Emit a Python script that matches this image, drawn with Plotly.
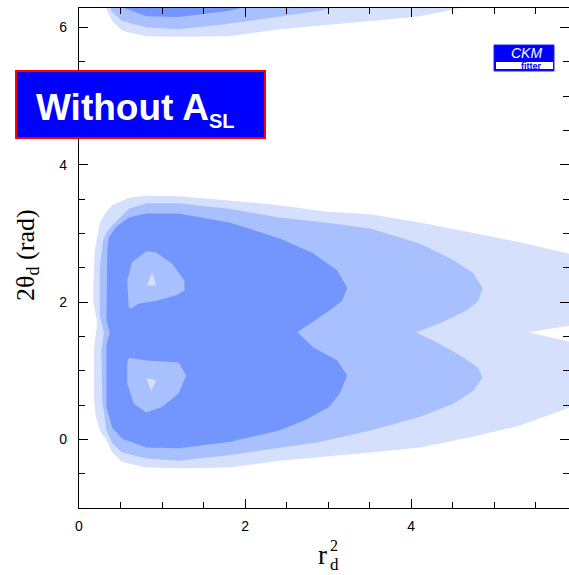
import math
import plotly.graph_objects as go

# Fill colours for the confidence-level bands (outer -> inner)
LIGHT = "rgb(213,224,253)"
MID = "rgb(168,192,253)"
DARK = "rgb(114,150,253)"

TWO_PI = 2 * math.pi

# Band boundaries in the (r_d^2, 2theta_d) plane
outer_r2 = [0.22, 0.17, 0.18, 0.19, 0.25, 0.33, 0.40, 0.60, 0.81, 1.20, 1.81, 2.41, 2.96,
            3.51, 4.11, 4.71, 5.31, 5.88, 6.52, 6.52, 5.42, 6.52, 6.52, 5.92, 5.31, 4.71,
            4.11, 3.51, 2.90, 2.42, 1.81, 1.20, 0.81, 0.52, 0.40, 0.33, 0.25, 0.20, 0.18,
            0.18, 0.20]
outer_th = [1.69, 2.02, 2.46, 2.75, 3.16, 3.32, 3.41, 3.52, 3.55, 3.54, 3.48, 3.41, 3.32,
            3.28, 3.16, 3.01, 2.87, 2.71, 2.53, 1.78, 1.56, 1.24, 0.73, 0.47, 0.20, 0.03,
            -0.12, -0.19, -0.26, -0.31, -0.41, -0.42, -0.41, -0.33, -0.19, -0.01, 0.13, 0.35,
            0.57, 1.30, 1.51]

middle_r2 = [0.29, 0.33, 0.40, 0.60, 0.81, 1.20, 1.81, 2.41, 2.96, 3.51, 4.11, 4.51, 4.75,
             4.86, 4.81, 4.67, 4.35, 4.06, 4.31, 4.59, 4.80, 4.86, 4.75, 4.51, 4.11, 3.51,
             2.90, 2.41, 1.81, 1.20, 0.81, 0.52, 0.40, 0.33, 0.28, 0.27, 0.30, 0.25, 0.25]
middle_th = [2.90, 3.01, 3.12, 3.36, 3.44, 3.44, 3.36, 3.23, 3.16, 3.07, 2.85, 2.61, 2.42,
             2.20, 2.02, 1.88, 1.69, 1.56, 1.41, 1.22, 1.05, 0.90, 0.71, 0.52, 0.33, 0.13,
             -0.04, -0.13, -0.23, -0.31, -0.28, -0.19, -0.06, 0.13, 0.57, 1.30, 1.56, 1.80,
             2.50]

inner_r2 = [0.34, 0.36, 0.45, 0.60, 0.81, 1.20, 1.81, 2.41, 2.82, 3.11, 3.23, 3.17, 3.02,
            2.63, 2.82, 3.11, 3.23, 3.14, 3.01, 2.72, 2.41, 1.81, 1.20, 0.81, 0.52, 0.40,
            0.33, 0.33, 0.37, 0.33]
inner_th = [2.75, 2.94, 3.10, 3.23, 3.29, 3.29, 3.16, 2.93, 2.71, 2.46, 2.21, 2.02, 1.88,
            1.56, 1.34, 1.15, 0.93, 0.67, 0.47, 0.28, 0.13, -0.04, -0.13, -0.12, 0.01, 0.17,
            0.47, 1.37, 1.56, 1.73]

# Islands around the two best-fit points
island_up_r2 = [0.60, 0.58, 0.64, 0.81, 0.93, 1.12, 1.27, 1.27, 1.17, 0.93, 0.72, 0.63]
island_up_th = [1.92, 2.31, 2.58, 2.74, 2.72, 2.56, 2.31, 2.17, 2.10, 2.02, 1.98, 1.91]
island_lo_r2 = [0.60, 0.81, 1.20, 1.29, 1.20, 1.00, 0.81, 0.66, 0.58, 0.58]
island_lo_th = [1.19, 1.15, 1.12, 0.93, 0.67, 0.47, 0.39, 0.52, 0.82, 1.11]

core_up_r2 = [0.82, 0.88, 0.93]
core_up_th = [2.24, 2.43, 2.24]
core_lo_r2 = [0.81, 0.93, 0.87]
core_lo_th = [0.89, 0.86, 0.71]

layers = [
    (outer_r2, outer_th, LIGHT),
    (middle_r2, middle_th, MID),
    (inner_r2, inner_th, DARK),
    (island_up_r2, island_up_th, MID),
    (island_lo_r2, island_lo_th, MID),
    (core_up_r2, core_up_th, LIGHT),
    (core_lo_r2, core_lo_th, LIGHT),
]

fig = go.Figure()
# 2theta_d is periodic: each region is repeated one period higher
for xs, ys, col in layers:
    for shift in (0.0, TWO_PI):
        fig.add_trace(go.Scatter(
            x=xs + [xs[0]], y=[v + shift for v in ys] + [ys[0] + shift],
            mode="lines", fill="toself", fillcolor=col,
            line=dict(width=0, color=col), hoverinfo="skip", showlegend=False,
        ))

W, H = 569, 575
ML, MR, MT, MB = 79, 0, 8, 67
PW, PH = W - ML - MR, H - MT - MB


def px(xp):
    return (xp - ML) / PW


def py(yp):
    return (H - MB - yp) / PH


axis_common = dict(
    showgrid=False, zeroline=False, showline=True, linecolor="black", linewidth=1.3,
    mirror="ticks", ticks="inside", ticklen=9, tickwidth=1.2, tickcolor="black",
    tickfont=dict(family="Liberation Sans, Arial, sans-serif", size=14, color="black"),
)

fig.update_xaxes(range=[0, 5.9], tickvals=[0, 2, 4], ticktext=["0", "2", "4"],
                 ticklabelstandoff=5,
                 minor=dict(dtick=0.5, tick0=0, ticks="inside", ticklen=6,
                            tickwidth=1.2, tickcolor="black", showgrid=False),
                 **axis_common)
fig.update_yaxes(range=[-1, TWO_PI], tickvals=[0, 2, 4, 6], ticktext=["0", "2", "4", "6"],
                 ticklabelstandoff=8,
                 minor=dict(dtick=0.5, tick0=0, ticks="inside", ticklen=6,
                            tickwidth=1.2, tickcolor="black", showgrid=False),
                 **axis_common)

serif = "Liberation Serif, Times New Roman, serif"
annotations = [
    # y-axis title
    dict(x=px(27), y=py(255), xref="paper", yref="paper", text="2θ<sub>d</sub> (rad)",
         textangle=-90, showarrow=False, font=dict(family=serif, size=26, color="black"),
         xanchor="center", yanchor="middle"),
    # x-axis title r_d^2 with stacked indices
    dict(x=px(322), y=py(555), xref="paper", yref="paper", text="r", showarrow=False,
         font=dict(family=serif, size=27, color="black"), xanchor="center", yanchor="middle"),
    dict(x=px(334), y=py(545), xref="paper", yref="paper", text="2", showarrow=False,
         font=dict(family=serif, size=16, color="black"), xanchor="center", yanchor="middle",
         height=14),
    dict(x=px(334), y=py(564), xref="paper", yref="paper", text="d", showarrow=False,
         font=dict(family=serif, size=17, color="black"), xanchor="center", yanchor="middle",
         height=15),
    # label box text
    dict(x=px(34), y=py(110), xref="paper", yref="paper",
         text="<b>Without A<sub><span style='font-size:20px'>SL</span></sub></b>",
         showarrow=False, font=dict(family="Liberation Sans, Arial, sans-serif", size=37,
                                    color="white"),
         xanchor="left", yanchor="middle"),
    # CKMfitter logo text
    dict(x=px(526), y=py(53), xref="paper", yref="paper", text="<i>CKM</i>", showarrow=False,
         font=dict(family="Liberation Sans, Arial, sans-serif", size=14, color="white"),
         xanchor="center", yanchor="middle"),
    dict(x=px(531), y=py(65.5), xref="paper", yref="paper", text="<b>fitter</b>",
         showarrow=False,
         font=dict(family="Liberation Sans, Arial, sans-serif", size=9, color="#0000ff"),
         xanchor="center", yanchor="middle"),
]

shapes = [
    dict(type="rect", xref="paper", yref="paper", x0=px(16), x1=px(265), y0=py(138),
         y1=py(71), fillcolor="#0000ff", line=dict(color="#ff0000", width=2), layer="above"),
    dict(type="rect", xref="paper", yref="paper", x0=px(494), x1=px(554), y0=py(71),
         y1=py(45), fillcolor="#0000ff", line=dict(color="#2020ff", width=1), layer="above"),
    dict(type="rect", xref="paper", yref="paper", x0=px(496), x1=px(553), y0=py(69),
         y1=py(62), fillcolor="white", line=dict(width=0), layer="above"),
]

fig.update_layout(
    width=W, height=H, margin=dict(l=ML, r=MR, t=MT, b=MB),
    paper_bgcolor="white", plot_bgcolor="white",
    annotations=annotations, shapes=shapes, showlegend=False,
)

fig.write_html("out.html")
